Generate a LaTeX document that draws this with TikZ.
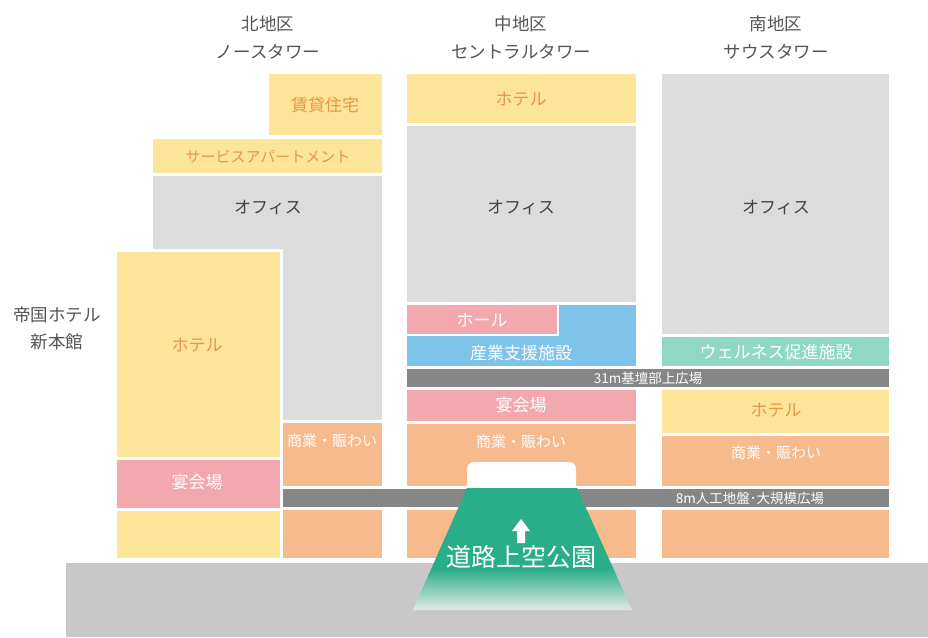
\documentclass[tikz,border=0pt]{standalone}
\usepackage{fontspec}
\setmainfont{Noto Sans CJK JP}
\definecolor{ylw}{RGB}{252,228,152}
\definecolor{ylwtxt}{RGB}{233,150,74}
\definecolor{offg}{RGB}{220,220,220}
\definecolor{pinkc}{RGB}{242,168,172}
\definecolor{bluec}{RGB}{126,196,233}
\definecolor{tealc}{RGB}{142,216,196}
\definecolor{orgc}{RGB}{246,186,140}
\definecolor{bandc}{RGB}{134,134,134}
\definecolor{groundc}{RGB}{200,200,200}
\definecolor{darktxt}{RGB}{85,85,85}
\definecolor{offtxt}{RGB}{68,68,68}
\definecolor{parkgreen}{RGB}{41,174,137}
\definecolor{parkfade}{RGB}{226,234,230}
\pgfdeclareverticalshading{parkshade}{100bp}{color(0bp)=(parkfade); color(25bp)=(parkfade); color(42bp)=(parkgreen); color(100bp)=(parkgreen)}
\tikzset{
  head/.style={text=darktxt, font=\fontsize{17.5}{28}\selectfont, align=center, inner sep=0pt},
  lbl/.style={font=\fontsize{17}{20}\selectfont, inner sep=0pt},
  lblsm/.style={font=\fontsize{15}{18}\selectfont, inner sep=0pt},
  bandlbl/.style={text=white, font=\fontsize{13.5}{16}\selectfont, inner sep=0pt},
}
\begin{document}
\begin{tikzpicture}[x=1pt,y=-1pt]
\useasboundingbox (0,0) rectangle (928,637);
% ground
\fill[groundc] (66,563) rectangle (928,637);
% North tower
\fill[ylw] (269,74) rectangle (382,135);
\fill[ylw] (153,139) rectangle (382,173);
\fill[offg] (153,176) rectangle (382,420);
\fill[orgc] (283,423) rectangle (382,486);
\fill[orgc] (283,510) rectangle (382,558);
% Imperial Hotel
\fill[white] (114,249) rectangle (283,561);
\fill[ylw] (117,252) rectangle (280,457);
\fill[pinkc] (117,460) rectangle (280,508);
\fill[ylw] (117,511) rectangle (280,558);
% Central tower
\fill[ylw] (407,74) rectangle (636,123);
\fill[offg] (407,126) rectangle (636,302);
\fill[bluec] (407,305) rectangle (636,366);
\fill[white] (405,303) rectangle (559,336);
\fill[pinkc] (407,305) rectangle (557,334);
\fill[pinkc] (407,390) rectangle (636,421);
\fill[orgc] (407,424) rectangle (636,486);
\fill[orgc] (407,510) rectangle (636,558);
% South tower
\fill[offg] (662,74) rectangle (889,334);
\fill[tealc] (662,337) rectangle (889,366);
\fill[ylw] (662,390) rectangle (889,433);
\fill[orgc] (662,436) rectangle (889,486);
\fill[orgc] (662,510) rectangle (889,558);
% bands
\fill[bandc] (407,369) rectangle (889,387);
\fill[bandc] (283,489) rectangle (889,507);
% park
\fill[white, rounded corners=7pt] (467,462) rectangle (576,496);
\shade[shading=parkshade] (467,488) -- (577,488) -- (632,610) -- (413,610) -- cycle;
\fill[white] (521,519) -- (530,531) -- (525,531) -- (525,543) -- (517,543) -- (517,531) -- (512,531) -- cycle;
\node[text=white, font=\fontsize{25}{28}\selectfont, inner sep=0pt] (park) at (521,557) {道路上空公園};

% headers
\node[head] (hN1) at (268,24) {北地区};
\node[head] (hN2) at (268,52) {ノースタワー};
\node[head] (hC1) at (521,24) {中地区};
\node[head] (hC2) at (521,52) {セントラルタワー};
\node[head] (hS1) at (776,24) {南地区};
\node[head] (hS2) at (776,52) {サウスタワー};
\node[head] (hI1) at (57,315) {帝国ホテル};
\node[head] (hI2) at (57,342) {新本館};

% North labels
\node[lbl, text=ylwtxt] (nRes) at (325,105) {賃貸住宅};
\node[lblsm, text=ylwtxt] (nSA) at (268,157) {サービスアパートメント};
\node[lbl, text=offtxt] (nOff) at (268,208) {オフィス};
\node[lblsm, text=white] (nCom) at (332,441) {商業・賑わい};
% Imperial labels
\node[lbl, text=ylwtxt] (iHot) at (197,345) {ホテル};
\node[lbl, text=white] (iBan) at (197,482) {宴会場};
% Central labels
\node[lbl, text=ylwtxt] (cHot) at (521,99) {ホテル};
\node[lbl, text=offtxt] (cOff) at (521,208) {オフィス};
\node[lbl, text=white] (cHall) at (482,320) {ホール};
\node[lbl, text=white] (cInd) at (521,353) {産業支援施設};
\node[lbl, text=white] (cBan) at (521,405) {宴会場};
\node[lblsm, text=white] (cCom) at (521,442) {商業・賑わい};
% South labels
\node[lbl, text=offtxt] (sOff) at (776,208) {オフィス};
\node[lbl, text=white] (sWel) at (776,352) {ウェルネス促進施設};
\node[lbl, text=ylwtxt] (sHot) at (776,410) {ホテル};
\node[lblsm, text=white] (sCom) at (776,453) {商業・賑わい};
% band labels
\node[bandlbl] (b31) at (648,378) {31m基壇部上広場};
\node[bandlbl] (b8) at (750,498) {8m人工地盤･大規模広場};
\end{tikzpicture}
\end{document}
